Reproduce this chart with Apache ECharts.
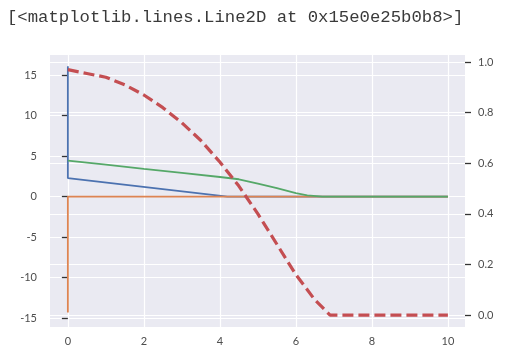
<!DOCTYPE html>
<html>
<head>
<meta charset="utf-8">
<script src="https://cdn.jsdelivr.net/npm/echarts@6.0.0/dist/echarts.min.js"></script>
<style>
html,body{margin:0;padding:0;background:#ffffff;}
#chart{width:515px;height:358px;}
</style>
</head>
<body>
<div id="chart"></div>
<script>
// ---- data ----
const headerText = "[<matplotlib.lines.Line2D at 0x15e0e25b0b8>]";
const xTicks = [0, 2, 4, 6, 8, 10];
const leftTicks = [-15, -10, -5, 0, 5, 10, 15];
const rightTicks = [0, 0.2, 0.4, 0.6, 0.8, 1.0];

const blueX = [0, 0, 4.2, 10];
const blueY = [16.1, 2.3, 0, 0];

const orangeX = [0, 0, 10];
const orangeY = [-14.3, 0, 0];

const greenX = [0, 1, 2, 3, 4, 4.5, 5, 5.5, 6, 6.3, 6.7, 10];
const greenY = [4.45, 3.95, 3.44, 2.94, 2.43, 2.15, 1.6, 1.05, 0.45, 0.15, 0, 0];

const redX = [0, 0.5, 1, 1.5, 2, 2.5, 3, 3.5, 4, 4.5, 5, 5.5, 6, 6.5, 6.9, 7.5, 8, 8.5, 9, 9.5, 10];
const redY = [0.97, 0.955, 0.94, 0.91, 0.87, 0.82, 0.76, 0.69, 0.605, 0.51, 0.40, 0.28, 0.16, 0.06, 0, 0, 0, 0, 0, 0, 0];

function pairs(xs, ys) { return xs.map((x, i) => [x, ys[i]]); }

const labelFont = { color: '#4d4d4d', fontSize: 11, fontFamily: 'Lato, "DejaVu Sans", sans-serif' };
const gridLine = { show: true, lineStyle: { color: '#ffffff', width: 1.2 } };

const chart = echarts.init(document.getElementById('chart'), null, { renderer: 'canvas' });
chart.setOption({
  animation: false,
  backgroundColor: '#ffffff',
  title: {
    text: headerText,
    left: 2, top: 4,
    textStyle: { fontFamily: '"Liberation Mono", "DejaVu Sans Mono", monospace', fontSize: 17.3, fontWeight: 'normal', color: '#3a3a3a' }
  },
  grid: { left: 50, top: 55, width: 415, height: 272, show: true, backgroundColor: '#eaeaf2', borderWidth: 0 },
  xAxis: {
    type: 'value', min: -0.47, max: 10.45,
    axisLine: { show: false },
    axisTick: { show: false, customValues: xTicks },
    axisLabel: Object.assign({ customValues: xTicks, margin: 9 }, labelFont),
    splitLine: gridLine
  },
  yAxis: [
    {
      type: 'value', position: 'left', min: -16.1, max: 17.5,
      axisLine: { show: false },
      axisTick: { show: true, length: 6, customValues: leftTicks, lineStyle: { color: '#333333', width: 1.3 } },
      axisLabel: Object.assign({ customValues: leftTicks, margin: 13 }, labelFont),
      splitLine: gridLine
    },
    {
      type: 'value', position: 'right', min: -0.047, max: 1.028,
      axisLine: { show: false },
      axisTick: { show: true, length: 6, customValues: rightTicks, lineStyle: { color: '#333333', width: 1.3 } },
      axisLabel: Object.assign({ customValues: rightTicks, margin: 13, formatter: v => v.toFixed(1) }, labelFont),
      splitLine: gridLine
    }
  ],
  series: [
    { type: 'line', data: pairs(blueX, blueY), yAxisIndex: 0, showSymbol: false, lineStyle: { color: '#4c72b0', width: 1.8 }, z: 3 },
    { type: 'line', data: pairs(orangeX, orangeY), yAxisIndex: 0, showSymbol: false, lineStyle: { color: '#dd8452', width: 1.8 }, z: 4 },
    { type: 'line', data: pairs(greenX, greenY), yAxisIndex: 0, showSymbol: false, lineStyle: { color: '#55a868', width: 1.8 }, z: 5 },
    { type: 'line', data: pairs(redX, redY), yAxisIndex: 1, showSymbol: false, lineStyle: { color: '#c44e52', width: 3.2, type: [11, 5], cap: 'butt' }, z: 6 }
  ]
});
</script>
</body>
</html>
